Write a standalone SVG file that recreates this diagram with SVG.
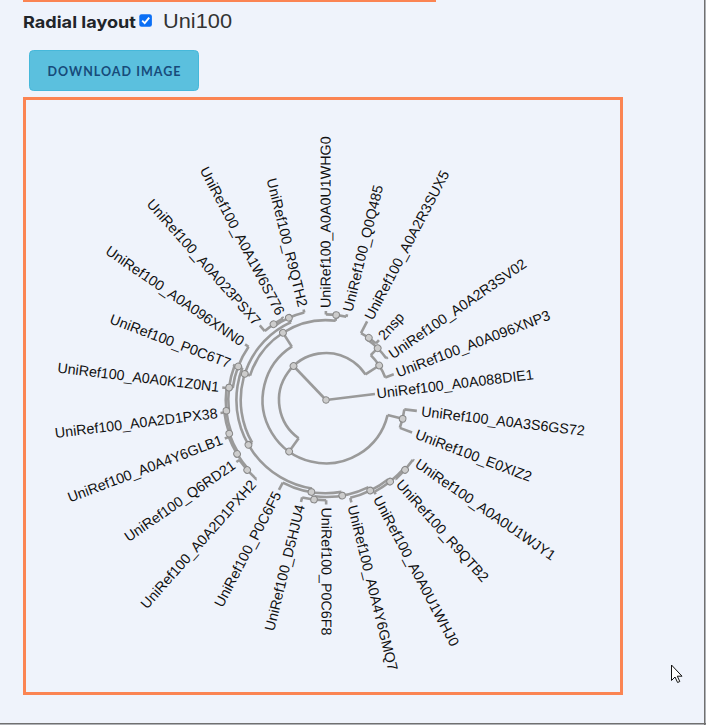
<svg xmlns="http://www.w3.org/2000/svg" width="706" height="725" viewBox="0 0 706 725">
<style>
.arc{fill:none;stroke:#9a9a9a;stroke-width:2.6;stroke-linecap:butt}
.ln{stroke:#9a9a9a;stroke-width:2.6}
.nd{fill:#cccccc;stroke:#888888;stroke-width:1}
.lb{font-family:"Liberation Sans",Arial,sans-serif;font-size:14.3px;fill:#111}
.lf{text-anchor:end}
</style>
<rect x="0" y="0" width="706" height="725" fill="#eff3fb"/>
<rect x="23" y="0" width="413" height="2" fill="#fb8452"/>
<g id="header">
<text x="23" y="28" font-family="Inter,'Open Sans',sans-serif" font-weight="700" font-size="16.5" fill="#212529" textLength="113" lengthAdjust="spacingAndGlyphs">Radial layout</text>
<rect x="139.3" y="14.2" width="12.6" height="12.6" rx="2.2" fill="#0b6ff5"/>
<path d="M142.2,20.6 L144.7,23.1 L149.2,17.6" fill="none" stroke="#fff" stroke-width="1.9"/>
<text x="163" y="28" font-family="'Liberation Sans',Arial,sans-serif" font-size="21" fill="#333" textLength="69" lengthAdjust="spacingAndGlyphs">Uni100</text>
</g>
<g id="download-button">
<rect x="29.5" y="50.5" width="169" height="40" rx="4" fill="#5bc0de" stroke="#46b8da"/>
<text x="114" y="76" text-anchor="middle" font-family="Lato,'Open Sans',sans-serif" font-weight="700" font-size="12.5" fill="#174b7a" textLength="133" lengthAdjust="spacing">DOWNLOAD IMAGE</text>
</g>
<rect x="24.5" y="98.5" width="597" height="595" fill="none" stroke="#fb8452" stroke-width="3"/>
<g transform="translate(326,400)">
<g id="connectors">
<line class="ln" x1="0" x2="47" transform="rotate(226.3)"/>
<line class="ln" x1="0" x2="49.3" transform="rotate(353)"/>
<line class="ln" x1="47" x2="63.4" transform="rotate(125.56)"/>
<line class="ln" x1="47" x2="63.4" transform="rotate(327.04)"/>
<line class="ln" x1="63.4" x2="78.9" transform="rotate(13.77)"/>
<line class="ln" x1="63.4" x2="79.8" transform="rotate(237.34)"/>
<line class="ln" x1="78.9" x2="91.5" transform="rotate(6.85)"/>
<line class="ln" x1="78.9" x2="92" transform="rotate(20.69)"/>
<line class="ln" x1="63.4" x2="73.2" transform="rotate(314.92)"/>
<line class="ln" x1="63.4" x2="72.5" transform="rotate(339.15)"/>
<line class="ln" x1="73.2" x2="75.5" transform="rotate(304.54)"/>
<line class="ln" x1="73.2" x2="75.2" transform="rotate(325.31)"/>
<line class="ln" x1="75.5" x2="88.7" transform="rotate(297.62)"/>
<line class="ln" x1="75.5" x2="80" transform="rotate(311.46)"/>
<line class="ln" x1="79.8" x2="85.3" transform="rotate(197.83)"/>
<line class="ln" x1="79.8" x2="85.6" transform="rotate(276.85)"/>
<line class="ln" x1="85.6" x2="89" transform="rotate(269.92)"/>
<line class="ln" x1="85.6" x2="88.3" transform="rotate(283.77)"/>
<line class="ln" x1="85.3" x2="89.6" transform="rotate(149.96)"/>
<line class="ln" x1="85.3" x2="90.2" transform="rotate(245.69)"/>
<line class="ln" x1="90.2" x2="92.2" transform="rotate(235.31)"/>
<line class="ln" x1="90.2" x2="93.3" transform="rotate(256.08)"/>
<line class="ln" x1="92.2" x2="99.7" transform="rotate(228.38)"/>
<line class="ln" x1="92.2" x2="94.1" transform="rotate(242.23)"/>
<line class="ln" x1="89.6" x2="93.2" transform="rotate(99.01)"/>
<line class="ln" x1="89.6" x2="94" transform="rotate(200.91)"/>
<line class="ln" x1="94" x2="97.7" transform="rotate(187.28)"/>
<line class="ln" x1="94" x2="98.2" transform="rotate(214.54)"/>
<line class="ln" x1="97.7" x2="100.2" transform="rotate(173.87)"/>
<line class="ln" x1="97.7" x2="99.4" transform="rotate(200.69)"/>
<line class="ln" x1="100.2" x2="102.4" transform="rotate(160.88)"/>
<line class="ln" x1="100.2" x2="104.5" transform="rotate(186.85)"/>
<line class="ln" x1="102.4" x2="104" transform="rotate(148.77)"/>
<line class="ln" x1="102.4" x2="106.3" transform="rotate(173)"/>
<line class="ln" x1="104" x2="105.4" transform="rotate(138.385)"/>
<line class="ln" x1="104" x2="108.3" transform="rotate(159.15)"/>
<line class="ln" x1="105.4" x2="106.5" transform="rotate(131.46)"/>
<line class="ln" x1="105.4" x2="109" transform="rotate(145.31)"/>
<line class="ln" x1="93.2" x2="97" transform="rotate(80.4)"/>
<line class="ln" x1="93.2" x2="101.5" transform="rotate(117.62)"/>
<line class="ln" x1="97" x2="100.8" transform="rotate(63.96)"/>
<line class="ln" x1="97" x2="100.3" transform="rotate(96.85)"/>
<line class="ln" x1="100.3" x2="104.5" transform="rotate(89.92)"/>
<line class="ln" x1="100.3" x2="105" transform="rotate(103.77)"/>
<line class="ln" x1="100.8" x2="103.8" transform="rotate(51.85)"/>
<line class="ln" x1="100.8" x2="105.5" transform="rotate(76.08)"/>
<line class="ln" x1="103.8" x2="105.5" transform="rotate(41.46)"/>
<line class="ln" x1="103.8" x2="106.5" transform="rotate(62.23)"/>
<line class="ln" x1="105.5" x2="107" transform="rotate(34.54)"/>
<line class="ln" x1="105.5" x2="106.5" transform="rotate(48.38)"/>
<circle class="arc" r="47" transform="rotate(125.56)" stroke-dasharray="165.28 1000"/>
<circle class="arc" r="63.4" transform="rotate(13.77)" stroke-dasharray="247.39 1000"/>
<circle class="arc" r="78.9" transform="rotate(6.85)" stroke-dasharray="19.06 1000"/>
<circle class="arc" r="63.4" transform="rotate(314.92)" stroke-dasharray="26.81 1000"/>
<circle class="arc" r="73.2" transform="rotate(304.54)" stroke-dasharray="26.54 1000"/>
<circle class="arc" r="75.5" transform="rotate(297.62)" stroke-dasharray="18.24 1000"/>
<circle class="arc" r="85.6" transform="rotate(269.92)" stroke-dasharray="20.69 1000"/>
<circle class="arc" r="90.2" transform="rotate(235.31)" stroke-dasharray="32.70 1000"/>
<circle class="arc" r="92.2" transform="rotate(228.38)" stroke-dasharray="22.29 1000"/>
<circle class="arc" r="79.8" transform="rotate(197.83)" stroke-dasharray="110.06 1000"/>
<circle class="arc" r="94" transform="rotate(187.28)" stroke-dasharray="44.72 1000"/>
<circle class="arc" r="85.3" transform="rotate(149.96)" stroke-dasharray="142.52 1000"/>
<circle class="arc" r="97.7" transform="rotate(173.87)" stroke-dasharray="45.73 1000"/>
<circle class="arc" r="100.2" transform="rotate(160.88)" stroke-dasharray="45.42 1000"/>
<circle class="arc" r="102.4" transform="rotate(148.77)" stroke-dasharray="43.30 1000"/>
<circle class="arc" r="89.6" transform="rotate(99.01)" stroke-dasharray="159.35 1000"/>
<circle class="arc" r="104" transform="rotate(138.385)" stroke-dasharray="37.69 1000"/>
<circle class="arc" r="105.4" transform="rotate(131.46)" stroke-dasharray="25.48 1000"/>
<circle class="arc" r="93.2" transform="rotate(80.4)" stroke-dasharray="60.54 1000"/>
<circle class="arc" r="100.3" transform="rotate(89.92)" stroke-dasharray="24.25 1000"/>
<circle class="arc" r="97" transform="rotate(63.96)" stroke-dasharray="55.68 1000"/>
<circle class="arc" r="100.8" transform="rotate(51.85)" stroke-dasharray="42.63 1000"/>
<circle class="arc" r="103.8" transform="rotate(41.46)" stroke-dasharray="37.63 1000"/>
<circle class="arc" r="105.5" transform="rotate(34.54)" stroke-dasharray="25.48 1000"/>
</g>
<g id="root"><circle class="nd" r="3.3" cx="0"/></g>
<g id="n1"><circle class="nd" r="3.3" cx="47" transform="rotate(226.3)"/></g>
<g id="n2"><circle class="nd" r="3.3" cx="63.4" transform="rotate(125.56)"/></g>
<g id="n3"><circle class="nd" r="3.3" cx="78.9" transform="rotate(13.77)"/></g>
<g id="n4"><circle class="nd" r="3.3" cx="63.4" transform="rotate(327.04)"/></g>
<g id="n5"><circle class="nd" r="3.3" cx="73.2" transform="rotate(314.92)"/></g>
<g id="n6"><circle class="nd" r="3.3" cx="75.5" transform="rotate(304.54)"/></g>
<g id="n7"><circle class="nd" r="3.3" cx="85.6" transform="rotate(276.85)"/></g>
<g id="n8"><circle class="nd" r="3.3" cx="90.2" transform="rotate(245.69)"/></g>
<g id="n9"><circle class="nd" r="3.3" cx="92.2" transform="rotate(235.31)"/></g>
<g id="n10"><circle class="nd" r="3.3" cx="79.8" transform="rotate(237.34)"/></g>
<g id="n11"><circle class="nd" r="3.3" cx="94" transform="rotate(200.91)"/></g>
<g id="n12"><circle class="nd" r="3.3" cx="85.3" transform="rotate(197.83)"/></g>
<g id="n13"><circle class="nd" r="3.3" cx="97.7" transform="rotate(187.28)"/></g>
<g id="n14"><circle class="nd" r="3.3" cx="100.2" transform="rotate(173.87)"/></g>
<g id="n15"><circle class="nd" r="3.3" cx="102.4" transform="rotate(160.88)"/></g>
<g id="n16"><circle class="nd" r="3.3" cx="89.6" transform="rotate(149.96)"/></g>
<g id="n17"><circle class="nd" r="3.3" cx="104" transform="rotate(148.77)"/></g>
<g id="n18"><circle class="nd" r="3.3" cx="105.4" transform="rotate(138.385)"/></g>
<g id="n19"><circle class="nd" r="3.3" cx="93.2" transform="rotate(99.01)"/></g>
<g id="n20"><circle class="nd" r="3.3" cx="100.3" transform="rotate(96.85)"/></g>
<g id="n21"><circle class="nd" r="3.3" cx="97" transform="rotate(80.4)"/></g>
<g id="n22"><circle class="nd" r="3.3" cx="100.8" transform="rotate(63.96)"/></g>
<g id="n23"><circle class="nd" r="3.3" cx="103.8" transform="rotate(51.85)"/></g>
<g id="n24"><circle class="nd" r="3.3" cx="105.5" transform="rotate(41.46)"/></g>
<g id="leaf-GS72"><text class="lb" dy="0.33em" transform="rotate(6.85) translate(96,0)">UniRef100_A0A3S6GS72</text></g>
<g id="leaf-E0XIZ2"><text class="lb" dy="0.33em" transform="rotate(20.69) translate(96,0)">UniRef100_E0XIZ2</text></g>
<g id="leaf-WJY1"><text class="lb" dy="0.33em" transform="rotate(34.54) translate(110,0)">UniRef100_A0A0U1WJY1</text></g>
<g id="leaf-R9QTB2"><text class="lb" dy="0.33em" transform="rotate(48.38) translate(109.5,0)">UniRef100_R9QTB2</text></g>
<g id="leaf-WHJ0"><text class="lb" dy="0.33em" transform="rotate(62.23) translate(109.5,0)">UniRef100_A0A0U1WHJ0</text></g>
<g id="leaf-GMQ7"><text class="lb" dy="0.33em" transform="rotate(76.08) translate(108.5,0)">UniRef100_A0A4Y6GMQ7</text></g>
<g id="leaf-P0C6F8"><text class="lb" dy="0.33em" transform="rotate(89.92) translate(107.5,0)">UniRef100_P0C6F8</text></g>
<g id="leaf-D5HJU4"><text class="lb lf" dy="0.33em" transform="rotate(103.77) translate(108,0) rotate(180)">UniRef100_D5HJU4</text></g>
<g id="leaf-P0C6F5"><text class="lb lf" dy="0.33em" transform="rotate(117.62) translate(104.5,0) rotate(180)">UniRef100_P0C6F5</text></g>
<g id="leaf-PXH2"><text class="lb lf" dy="0.33em" transform="rotate(131.46) translate(109.5,0) rotate(180)">UniRef100_A0A2D1PXH2</text></g>
<g id="leaf-Q6RD21"><text class="lb lf" dy="0.33em" transform="rotate(145.31) translate(112,0) rotate(180)">UniRef100_Q6RD21</text></g>
<g id="leaf-GLB1"><text class="lb lf" dy="0.33em" transform="rotate(159.15) translate(111.3,0) rotate(180)">UniRef100_A0A4Y6GLB1</text></g>
<g id="leaf-PX38"><text class="lb lf" dy="0.33em" transform="rotate(173) translate(109.3,0) rotate(180)">UniRef100_A0A2D1PX38</text></g>
<g id="leaf-Z0N1"><text class="lb lf" dy="0.33em" transform="rotate(186.85) translate(107.5,0) rotate(180)">UniRef100_A0A0K1Z0N1</text></g>
<g id="leaf-P0C6T7"><text class="lb lf" dy="0.33em" transform="rotate(200.69) translate(102.4,0) rotate(180)">UniRef100_P0C6T7</text></g>
<g id="leaf-XNN0"><text class="lb lf" dy="0.33em" transform="rotate(214.54) translate(101.2,0) rotate(180)">UniRef100_A0A096XNN0</text></g>
<g id="leaf-PSX7"><text class="lb lf" dy="0.33em" transform="rotate(228.38) translate(102.7,0) rotate(180)">UniRef100_A0A023PSX7</text></g>
<g id="leaf-S776"><text class="lb lf" dy="0.33em" transform="rotate(242.23) translate(97.1,0) rotate(180)">UniRef100_A0A1W6S776</text></g>
<g id="leaf-R9QTH2"><text class="lb lf" dy="0.33em" transform="rotate(256.08) translate(96.3,0) rotate(180)">UniRef100_R9QTH2</text></g>
<g id="leaf-WHG0"><text class="lb" dy="0.33em" transform="rotate(269.92) translate(92,0)">UniRef100_A0A0U1WHG0</text></g>
<g id="leaf-Q0Q485"><text class="lb" dy="0.33em" transform="rotate(283.77) translate(91.3,0)">UniRef100_Q0Q485</text></g>
<g id="leaf-SUX5"><text class="lb" dy="0.33em" transform="rotate(297.62) translate(91.7,0)">UniRef100_A0A2R3SUX5</text></g>
<g id="leaf-2nsp"><text class="lb" dy="0.33em" transform="rotate(311.46) translate(83,0)">2nsp</text></g>
<g id="leaf-SV02"><text class="lb" dy="0.33em" transform="rotate(325.31) translate(78.2,0)">UniRef100_A0A2R3SV02</text></g>
<g id="leaf-XNP3"><text class="lb" dy="0.33em" transform="rotate(339.15) translate(75.5,0)">UniRef100_A0A096XNP3</text></g>
<g id="leaf-DIE1"><text class="lb" dy="0.33em" transform="rotate(353) translate(51,0)">UniRef100_A0A088DIE1</text></g>
</g>
<line x1="704.75" y1="0" x2="704.75" y2="725" stroke="#707070" stroke-width="1.5"/>
<line x1="0" y1="723.75" x2="706" y2="723.75" stroke="#707070" stroke-width="1.5"/>
<path d="M671.5,665 L671.5,680.5 L675,677 L677.6,682.5 L679.8,681.5 L677.3,676.2 L682,676.2 Z" fill="#fff" stroke="#111" stroke-width="1"/>
</svg>
